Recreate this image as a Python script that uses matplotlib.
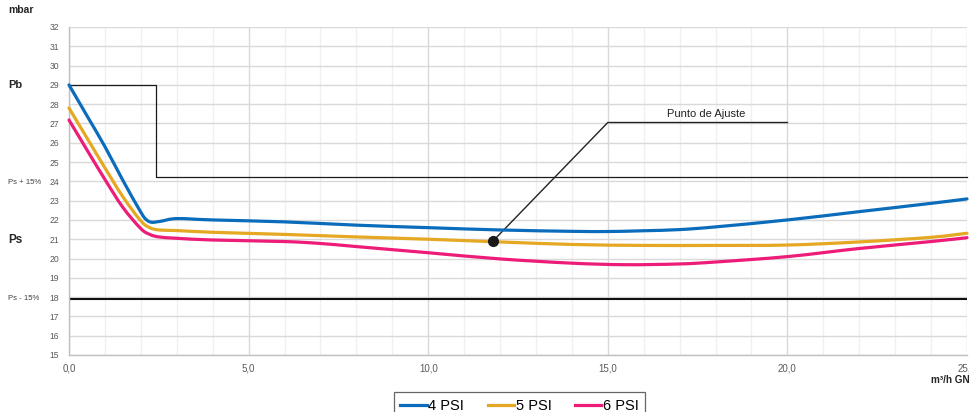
import matplotlib
matplotlib.use("Agg")
import matplotlib.pyplot as plt
from matplotlib.path import Path
from matplotlib.patches import PathPatch
from matplotlib.lines import Line2D
from matplotlib.ticker import FuncFormatter, MultipleLocator

plt.rcParams['font.family'] = ['Liberation Sans', 'DejaVu Sans']

# caudal (m3/h) y presion (mbar)
x_4psi = [0, 0.5, 1.0, 1.5, 2.0, 2.15, 2.3, 2.55, 3.0, 4, 6, 8, 10, 12, 14, 15, 16, 17, 18, 20, 22, 24, 25]
y_4psi = [29.0, 27.4, 25.8, 24.05, 22.4, 22.02, 21.88, 21.93, 22.07, 22.0, 21.9, 21.73, 21.6, 21.48, 21.41, 21.4, 21.44, 21.5, 21.64, 22.0, 22.43, 22.86, 23.09]

x_5psi = [0, 0.5, 1.0, 1.5, 2.0, 2.25, 2.5, 3.0, 4, 6, 8, 10, 12, 14, 16, 18, 20, 22, 24, 25]
y_5psi = [27.8, 26.25, 24.7, 23.2, 21.95, 21.6, 21.48, 21.45, 21.36, 21.25, 21.12, 21.0, 20.86, 20.73, 20.68, 20.68, 20.7, 20.86, 21.1, 21.31]

x_6psi = [0, 0.5, 1.0, 1.5, 2.0, 2.25, 2.5, 3.0, 4, 6, 7, 8, 10, 12, 14, 15.5, 17, 18, 20, 22, 24, 25]
y_6psi = [27.18, 25.63, 24.1, 22.65, 21.55, 21.25, 21.12, 21.05, 20.96, 20.88, 20.78, 20.62, 20.3, 19.98, 19.76, 19.68, 19.72, 19.82, 20.1, 20.52, 20.88, 21.08]

series_names = ['4 PSI', '5 PSI', '6 PSI']
series_colors = ['#0a6cbb', '#e5a823', '#ec1c78']

# lineas de referencia
pb_step_x = [0, 2.42, 2.42, 25]
pb_step_y = [29.0, 29.0, 24.2, 24.2]
ps_minus = 17.9
ajuste_x = [11.8, 15.0, 20.0]
ajuste_y = [20.9, 27.05, 27.05]
ajuste_label = 'Punto de Ajuste'


def smooth_path(xs, ys, t=0.5):
    # curva tipo Excel "linea suavizada": bezier cubica entre puntos
    verts = [(xs[0], ys[0])]
    codes = [Path.MOVETO]
    n = len(xs)
    for i in range(n - 1):
        x0, y0 = (xs[i - 1], ys[i - 1]) if i > 0 else (xs[i], ys[i])
        x1, y1 = xs[i], ys[i]
        x2, y2 = xs[i + 1], ys[i + 1]
        x3, y3 = (xs[i + 2], ys[i + 2]) if i + 2 < n else (x2, y2)
        c1 = (x1 + (x2 - x0) * t / 3, y1 + (y2 - y0) * t / 3)
        c2 = (x2 - (x3 - x1) * t / 3, y2 - (y3 - y1) * t / 3)
        verts += [c1, c2, (x2, y2)]
        codes += [Path.CURVE4] * 3
    return Path(verts, codes)


fig = plt.figure(figsize=(9.7, 4.12), dpi=100)
ax = fig.add_axes([69 / 970, 1 - 355 / 412, 898 / 970, 328 / 412])

ax.set_xlim(0, 25)
ax.set_ylim(15, 32)
ax.xaxis.set_major_locator(MultipleLocator(5))
ax.xaxis.set_minor_locator(MultipleLocator(1))
ax.yaxis.set_major_locator(MultipleLocator(1))
ax.xaxis.set_major_formatter(FuncFormatter(lambda v, p: f"{v:.1f}".replace('.', ',')))
ax.yaxis.set_major_formatter(FuncFormatter(lambda v, p: f"{int(v)}"))

ax.grid(True, which='major', color='#d9d9d9', linewidth=1.0)
ax.grid(True, which='minor', axis='x', color='#f0f0f0', linewidth=1.0)
ax.set_axisbelow(True)
for s in ['top', 'right']:
    ax.spines[s].set_visible(False)
for s in ['left', 'bottom']:
    ax.spines[s].set_color('#bfbfbf')
    ax.spines[s].set_linewidth(1.0)
ax.tick_params(which='both', length=0)
ax.tick_params(axis='y', labelsize=6.2, labelcolor='#595959', pad=7)
ax.tick_params(axis='x', labelsize=7, labelcolor='#595959', pad=6)

# lineas de referencia
ax.plot(pb_step_x, pb_step_y, color='#1a1a1a', linewidth=0.9, clip_on=False)
ax.axhline(ps_minus, color='#111111', linewidth=1.5)
ax.plot(ajuste_x, ajuste_y, color='#222222', linewidth=1.0)
ax.plot(ajuste_x[0], ajuste_y[0], 'o', color='#1a1a1a', markersize=7, zorder=6)
ax.text((ajuste_x[1] + ajuste_x[2]) / 2 + 0.25, ajuste_y[1] + 0.2, ajuste_label,
        ha='center', va='bottom', fontsize=8, color='#222222')

# curvas
for xs, ys, col in zip([x_4psi, x_5psi, x_6psi], [y_4psi, y_5psi, y_6psi], series_colors):
    ax.add_patch(PathPatch(smooth_path(xs, ys), facecolor='none', edgecolor=col,
                           linewidth=2.3, capstyle='round', zorder=4, clip_on=False))

# etiquetas
fig.text(8 / 970, 1 - 10 / 412, 'mbar', fontsize=7.5, fontweight='bold', color='#262626', va='center')
fig.text(8 / 970, 1 - 85 / 412, 'Pb', fontsize=8, fontweight='bold', color='#262626', va='center')
fig.text(8 / 970, 1 - 240 / 412, 'Ps', fontsize=8.5, fontweight='bold', color='#262626', va='center')
fig.text(8 / 970, 1 - 182 / 412, 'Ps + 15%', fontsize=5.6, color='#404040', va='center')
fig.text(8 / 970, 1 - 299 / 412, 'Ps - 15%', fontsize=5.6, color='#404040', va='center')
fig.text(931 / 970, 1 - 380 / 412, 'm³/h GN', fontsize=7.2, fontweight='bold', color='#262626', va='center')

handles = [Line2D([], [], color=c, linewidth=2.3) for c in series_colors]
leg = fig.legend(handles, series_names, loc='upper center', bbox_to_anchor=(519.5 / 970, 1 - 385 / 412),
                 ncol=3, fontsize=10.5, frameon=True, fancybox=False, handlelength=1.8,
                 handletextpad=0.12, columnspacing=1.6, borderpad=0.45)
leg.get_frame().set_edgecolor('#404040')
leg.get_frame().set_linewidth(0.9)

fig.savefig('out.png', dpi=100)
